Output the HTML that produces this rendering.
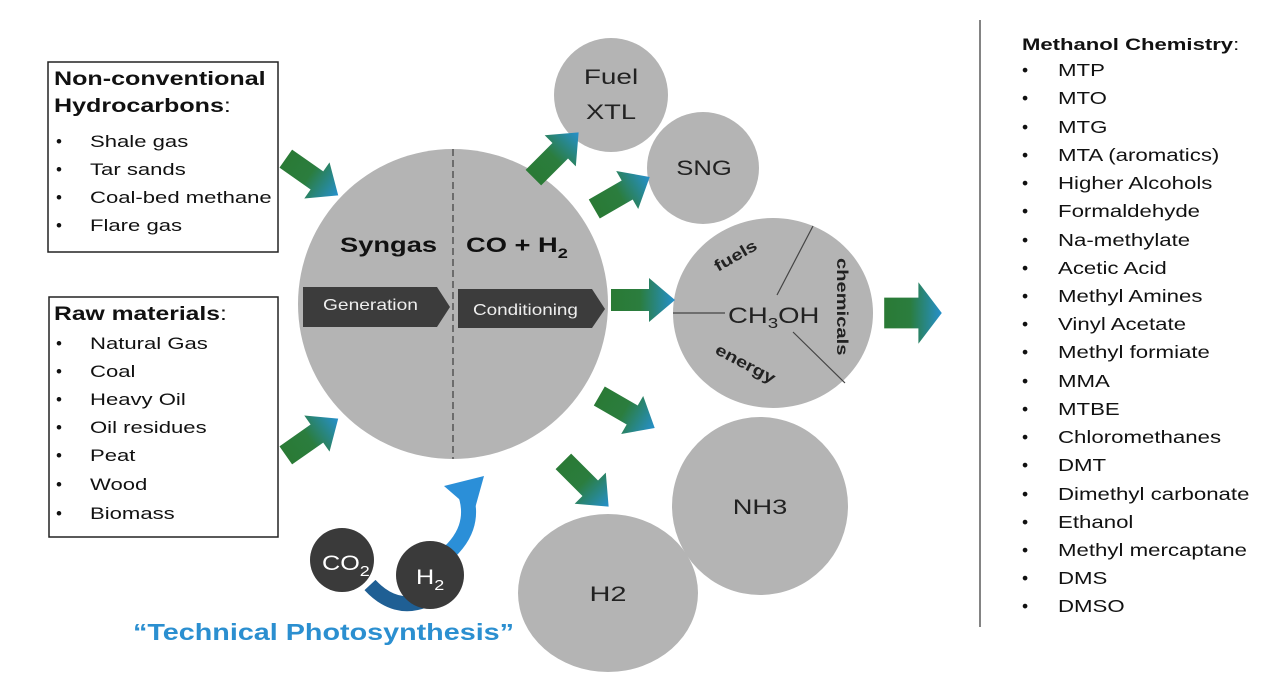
<!DOCTYPE html>
<html><head><meta charset="utf-8"><style>
html,body{margin:0;padding:0;background:#fff;}
svg{display:block;font-family:"Liberation Sans",Arial,sans-serif;}
</style></head><body>
<svg width="1278" height="677" viewBox="0 0 1278 677" xmlns="http://www.w3.org/2000/svg">
<defs>
<linearGradient id="ag" x1="0" y1="0" x2="1" y2="0">
<stop offset="0" stop-color="#2a7a35"/><stop offset="0.45" stop-color="#2b7d3e"/><stop offset="1" stop-color="#2690cc"/>
</linearGradient>
<g id="arr"><polygon points="-32,-11 6,-11 6,-22 32,0 6,22 6,11 -32,11" fill="url(#ag)"/></g>
</defs>

<!-- left boxes -->
<rect x="48" y="62" width="230" height="190" fill="#fff" stroke="#222" stroke-width="1.5"/>
<g fill="#111" font-size="17">
<text transform="translate(54,85) scale(1.32,1)" font-weight="bold" font-size="19">Non-conventional</text>
<text transform="translate(54,112) scale(1.32,1)" font-weight="bold" font-size="19">Hydrocarbons<tspan font-weight="normal">:</tspan></text>
<text x="56" y="147">•</text><text transform="translate(90,147) scale(1.3,1)">Shale gas</text>
<text x="56" y="175">•</text><text transform="translate(90,175) scale(1.3,1)">Tar sands</text>
<text x="56" y="203">•</text><text transform="translate(90,203) scale(1.3,1)">Coal-bed methane</text>
<text x="56" y="231">•</text><text transform="translate(90,231) scale(1.3,1)">Flare gas</text>
</g>
<rect x="49" y="297" width="229" height="240" fill="#fff" stroke="#222" stroke-width="1.5"/>
<g fill="#111" font-size="17">
<text transform="translate(54,320) scale(1.3,1)" font-weight="bold" font-size="19">Raw materials<tspan font-weight="normal">:</tspan></text>
<text x="56" y="349">•</text><text transform="translate(90,349) scale(1.3,1)">Natural Gas</text>
<text x="56" y="377">•</text><text transform="translate(90,377) scale(1.3,1)">Coal</text>
<text x="56" y="405">•</text><text transform="translate(90,405) scale(1.3,1)">Heavy Oil</text>
<text x="56" y="433">•</text><text transform="translate(90,433) scale(1.3,1)">Oil residues</text>
<text x="56" y="461">•</text><text transform="translate(90,461) scale(1.3,1)">Peat</text>
<text x="56" y="490">•</text><text transform="translate(90,490) scale(1.3,1)">Wood</text>
<text x="56" y="519">•</text><text transform="translate(90,519) scale(1.3,1)">Biomass</text>
</g>

<!-- circles -->
<circle cx="453" cy="304" r="155" fill="#b4b4b4"/>
<line x1="453" y1="149" x2="453" y2="459" stroke="#555" stroke-width="1.5" stroke-dasharray="7,4"/>
<text transform="translate(340,252) scale(1.3,1)" font-size="21" font-weight="bold" fill="#111">Syngas</text>
<text transform="translate(466,252) scale(1.3,1)" font-size="21" font-weight="bold" fill="#111">CO + H<tspan font-size="14" dy="6">2</tspan></text>
<polygon points="303,287 437,287 450,307 437,327 303,327" fill="#3c3c3c"/>
<text transform="translate(323,310) scale(1.2,1)" font-size="16" fill="#eee">Generation</text>
<polygon points="458,289 592,289 605,309 592,328 458,328" fill="#3c3c3c"/>
<text transform="translate(473,315) scale(1.18,1)" font-size="16" fill="#eee">Conditioning</text>

<circle cx="611" cy="95" r="57" fill="#b4b4b4"/>
<text transform="translate(611,84) scale(1.33,1)" font-size="21" fill="#222" text-anchor="middle">Fuel</text>
<text transform="translate(611,119) scale(1.3,1)" font-size="21" fill="#222" text-anchor="middle">XTL</text>
<circle cx="703" cy="168" r="56" fill="#b4b4b4"/>
<text transform="translate(704,175) scale(1.22,1)" font-size="21" fill="#222" text-anchor="middle">SNG</text>

<ellipse cx="773" cy="313" rx="100" ry="95" fill="#b4b4b4"/>
<line x1="673" y1="313" x2="725" y2="313" stroke="#444" stroke-width="1.2"/>
<line x1="777" y1="295" x2="813" y2="226" stroke="#444" stroke-width="1.2"/>
<line x1="793" y1="332" x2="845" y2="383" stroke="#444" stroke-width="1.2"/>
<text transform="translate(728,323) scale(1.25,1)" font-size="22" fill="#222">CH<tspan font-size="15" dy="5">3</tspan><tspan dy="-5">OH</tspan></text>
<text font-size="16" font-weight="bold" fill="#222" transform="translate(718,272) rotate(-30) scale(1.25,1)">fuels</text>
<text font-size="16" font-weight="bold" fill="#222" transform="translate(714,353) rotate(28) scale(1.25,1)">energy</text>
<text font-size="16" font-weight="bold" fill="#222" transform="translate(837,258) rotate(90) scale(1.26,1)">chemicals</text>

<ellipse cx="760" cy="506" rx="88" ry="89" fill="#b4b4b4"/>
<text transform="translate(760,514) scale(1.3,1)" font-size="21" fill="#222" text-anchor="middle">NH3</text>
<ellipse cx="608" cy="593" rx="90" ry="79" fill="#b4b4b4"/>
<text transform="translate(608,601) scale(1.38,1)" font-size="21" fill="#222" text-anchor="middle">H2</text>

<!-- arrows -->
<use href="#arr" transform="translate(312,177) rotate(35)"/>
<use href="#arr" transform="translate(312,437) rotate(-35)"/>
<use href="#arr" transform="translate(556,155) rotate(-45)"/>
<use href="#arr" transform="translate(622,193) rotate(-30)"/>
<use href="#arr" transform="translate(643,300)"/>
<use href="#arr" transform="translate(627,412) rotate(30)"/>
<use href="#arr" transform="translate(586,484) rotate(45)"/>
<use href="#arr" transform="translate(913,313) scale(0.9,1.4)"/>

<!-- technical photosynthesis -->
<path d="M370,585 Q395,612 425,600" stroke="#1f5f94" stroke-width="15" fill="none"/>
<path d="M440,560 Q480,530 464,490" stroke="#2b8fd8" stroke-width="15" fill="none"/>
<polygon points="444,486 484,476 474,512" fill="#2b8fd8"/>
<circle cx="342" cy="560" r="32" fill="#3a3a3a"/>
<text transform="translate(322,570) scale(1.2,1)" font-size="21" fill="#fff">CO<tspan font-size="15" dy="6">2</tspan></text>
<circle cx="430" cy="575" r="34" fill="#3a3a3a"/>
<text transform="translate(416,584) scale(1.2,1)" font-size="21" fill="#fff">H<tspan font-size="15" dy="6">2</tspan></text>
<text transform="translate(133,640) scale(1.25,1)" font-size="23" font-weight="bold" fill="#2b8fd0">“Technical Photosynthesis”</text>

<!-- right list -->
<line x1="980" y1="20" x2="980" y2="627" stroke="#333" stroke-width="1.2"/>
<g fill="#111" font-size="17.5">
<text transform="translate(1022,50) scale(1.3,1)" font-weight="bold" font-size="17">Methanol Chemistry<tspan font-weight="normal">:</tspan></text>
<text x="1022" y="76">•</text><text transform="translate(1058,76) scale(1.27,1)">MTP</text>
<text x="1022" y="104">•</text><text transform="translate(1058,104) scale(1.27,1)">MTO</text>
<text x="1022" y="133">•</text><text transform="translate(1058,133) scale(1.27,1)">MTG</text>
<text x="1022" y="161">•</text><text transform="translate(1058,161) scale(1.27,1)">MTA (aromatics)</text>
<text x="1022" y="189">•</text><text transform="translate(1058,189) scale(1.27,1)">Higher Alcohols</text>
<text x="1022" y="217">•</text><text transform="translate(1058,217) scale(1.27,1)">Formaldehyde</text>
<text x="1022" y="246">•</text><text transform="translate(1058,246) scale(1.27,1)">Na-methylate</text>
<text x="1022" y="274">•</text><text transform="translate(1058,274) scale(1.27,1)">Acetic Acid</text>
<text x="1022" y="302">•</text><text transform="translate(1058,302) scale(1.27,1)">Methyl Amines</text>
<text x="1022" y="330">•</text><text transform="translate(1058,330) scale(1.27,1)">Vinyl Acetate</text>
<text x="1022" y="358">•</text><text transform="translate(1058,358) scale(1.27,1)">Methyl formiate</text>
<text x="1022" y="387">•</text><text transform="translate(1058,387) scale(1.27,1)">MMA</text>
<text x="1022" y="415">•</text><text transform="translate(1058,415) scale(1.27,1)">MTBE</text>
<text x="1022" y="443">•</text><text transform="translate(1058,443) scale(1.27,1)">Chloromethanes</text>
<text x="1022" y="471">•</text><text transform="translate(1058,471) scale(1.27,1)">DMT</text>
<text x="1022" y="500">•</text><text transform="translate(1058,500) scale(1.27,1)">Dimethyl carbonate</text>
<text x="1022" y="528">•</text><text transform="translate(1058,528) scale(1.27,1)">Ethanol</text>
<text x="1022" y="556">•</text><text transform="translate(1058,556) scale(1.27,1)">Methyl mercaptane</text>
<text x="1022" y="584">•</text><text transform="translate(1058,584) scale(1.27,1)">DMS</text>
<text x="1022" y="612">•</text><text transform="translate(1058,612) scale(1.27,1)">DMSO</text>
</g>
</svg>
</body></html>
